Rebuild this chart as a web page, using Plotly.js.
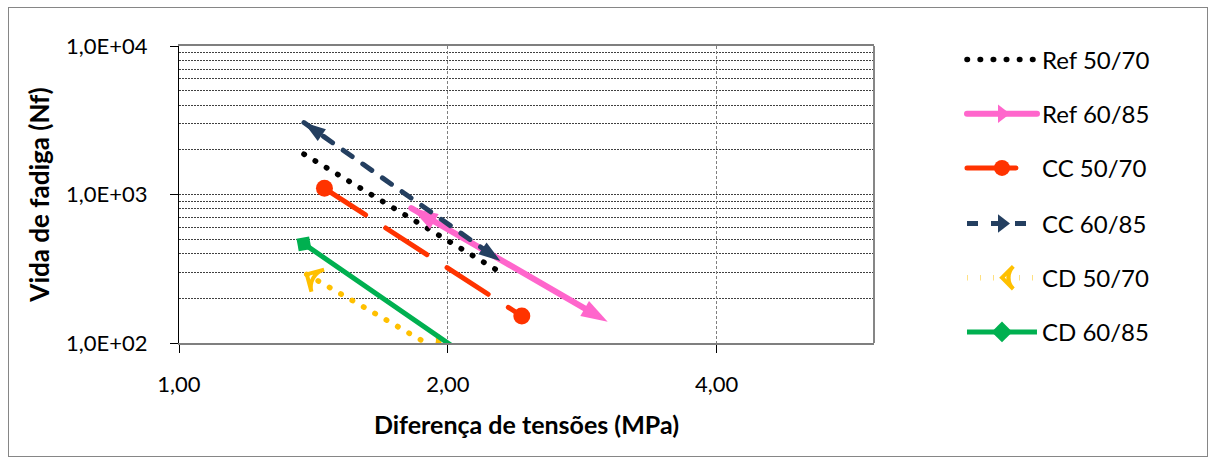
<!DOCTYPE html>
<html><head><meta charset="utf-8">
<script src="https://cdn.plot.ly/plotly-3.0.1.min.js"></script>
<style>
html,body{margin:0;padding:0;background:#fff;}
#chart{position:absolute;left:0;top:0;width:1216px;height:464px;}
#frame{position:absolute;left:8px;top:7px;width:1198px;height:448px;border:1px solid #868686;pointer-events:none;}
.scatterlayer .js-line, .legend .js-line {stroke-linecap: round;}
</style></head>
<body><div id="chart"></div><div id="frame"></div>
<script>
// ---- data ----
const seriesNames = ["Ref 50/70", "Ref 60/85", "CC 50/70", "CC 60/85", "CD 50/70", "CD 60/85"];
const ref5070X = [1.38, 2.29];  const ref5070Y = [1870, 300];
const ref6085X = [1.82, 3.02];  const ref6085Y = [810, 139];
const cc5070X  = [1.455, 2.42]; const cc5070Y  = [1100, 152];
const cc6085X  = [1.38, 2.29];  const cc6085Y  = [3050, 357];
const cd5070X  = [1.39, 1.97];  const cd5070Y  = [290, 87];
const cd6085X  = [1.38, 2.11];  const cd6085Y  = [465, 80];
const xTickVals = [1, 2, 4];          const xTickText = ["1,00", "2,00", "4,00"];
const yTickVals = [100, 1000, 10000]; const yTickText = ["1,0E+02", "1,0E+03", "1,0E+04"];
const yMinorVals = [200,300,400,500,600,700,800,900,2000,3000,4000,5000,6000,7000,8000,9000];

// ---- styles ----
const styles = [
  {color:"#000000", width:5.5, dash:"0.5px,12.6px", start:null, end:null},
  {color:"#FF66CC", width:6,   dash:"solid", start:{symbol:"arrow", size:28}, end:{symbol:"arrow", size:28}, leg:"triangle-right", legAngle:0},
  {color:"#FF3300", width:5,   dash:"49px,24px", start:{symbol:"circle", size:17}, end:{symbol:"circle", size:17}, leg:"circle", legAngle:0},
  {color:"#243F60", width:5,   dash:"11px,13px", start:{symbol:"arrow", size:23}, end:{symbol:"arrow", size:23}, leg:"triangle-right", legAngle:0},
  {color:"#FFC000", width:5.5, dash:"0.5px,12.6px", start:{symbol:"arrow-wide-open", size:18, open:true}, end:{symbol:"arrow-wide-open", size:18, open:true}, leg:"arrow-wide-open", legAngle:-90},
  {color:"#00B050", width:5,   dash:"solid", start:{symbol:"diamond", size:14}, end:{symbol:"diamond", size:14}, leg:"diamond", legAngle:0}
];
const xs = [ref5070X, ref6085X, cc5070X, cc6085X, cd5070X, cd6085X];
const ys = [ref5070Y, ref6085Y, cc5070Y, cc6085Y, cd5070Y, cd6085Y];

function markerFor(m, color) {
  if (!m) return {size:0};
  return {
    symbol: m.symbol, size: [0, m.size], color: color, opacity: 1,
    angleref: "previous",
    line: m.open ? {width:4, color: color} : {width:0}
  };
}

const traces = [];
seriesNames.forEach((name, i) => {
  const s = styles[i];
  traces.push({
    x: xs[i], y: ys[i], type: "scatter",
    mode: s.end ? "lines+markers" : "lines",
    line: {color: s.color, width: s.width, dash: s.dash},
    marker: markerFor(s.end, s.color),
    legendgroup: "g" + i, showlegend: false, hoverinfo: "x+y+name", name: name
  });
  if (s.start) {
    traces.push({
      x: xs[i].slice().reverse(), y: ys[i].slice().reverse(), type: "scatter",
      mode: "markers", marker: markerFor(s.start, s.color),
      legendgroup: "g" + i, showlegend: false, hoverinfo: "skip", name: name
    });
  }
  const leg = {
    x: [null], y: [null], type: "scatter", name: name,
    mode: s.leg ? "lines+markers" : "lines",
    line: {color: s.color, width: s.width, dash: s.dash},
    legendgroup: "g" + i, showlegend: true,
    legend: i < 3 ? "legend" : "legend2"
  };
  if (s.leg) leg.marker = {symbol: s.leg, size: 16, color: s.color, opacity: 1, angle: s.legAngle,
    line: s.leg.indexOf("open") >= 0 ? {width:4, color:s.color} : {width:0}};
  traces.push(leg);
});

const FONT = "Lato, 'Open Sans', sans-serif";
const legendBase = {x: 1.1266, xanchor: "left", yanchor: "top",
  font: {family: FONT, size: 24, color: "#000"},
  itemwidth: 70, tracegroupgap: 20, bgcolor: "rgba(0,0,0,0)"};
const layout = {
  width: 1216, height: 464,
  margin: {l:179, r:342, t:46, b:121},
  paper_bgcolor: "rgba(0,0,0,0)", plot_bgcolor: "#fff",
  font: {family: FONT, size: 22, color: "#000"},
  showlegend: true,
  legend: Object.assign({}, legendBase, {y: 1.029}),
  legend2: Object.assign({}, legendBase, {y: 0.4768}),
  xaxis: {
    type: "log", range: [0, Math.log10(6)],
    tickmode: "array", tickvals: xTickVals, ticktext: xTickText,
    ticks: "outside", ticklen: 8, tickcolor: "#000", ticklabelstandoff: 13,
    showgrid: true, gridcolor: "#7f7f7f", griddash: "3px,2px", gridwidth: 1,
    showline: true, linecolor: "#7f7f7f", linewidth: 2, mirror: true,
    title: {text: "<b>Diferença de tensões (MPa)</b>", font: {family: FONT, size: 25}, standoff: 20},
    automargin: false, fixedrange: true
  },
  yaxis: {
    type: "log", range: [2, 4],
    tickmode: "array", tickvals: yTickVals, ticktext: yTickText,
    ticks: "outside", ticklen: 8, tickcolor: "#000", ticklabelstandoff: 18,
    showgrid: true, gridcolor: "#404040", griddash: "2px,1px", gridwidth: 1,
    minor: {tickvals: yMinorVals, showgrid: true, gridcolor: "#404040", griddash: "2px,1px", gridwidth: 1, ticks: ""},
    showline: true, linecolor: "#000", linewidth: 1,
    title: {text: "<b>Vida de fadiga (Nf)</b>", font: {family: FONT, size: 26}, standoff: 8},
    automargin: false, fixedrange: true
  },
  shapes: [
    {type: "line", xref: "paper", yref: "paper", x0: 1, x1: 1, y0: 0, y1: 1,
     line: {color: "#868686", width: 2}, layer: "above"}
  ]
};

Plotly.newPlot("chart", traces, layout, {displayModeBar: false, staticPlot: true});
</script>
</body></html>
